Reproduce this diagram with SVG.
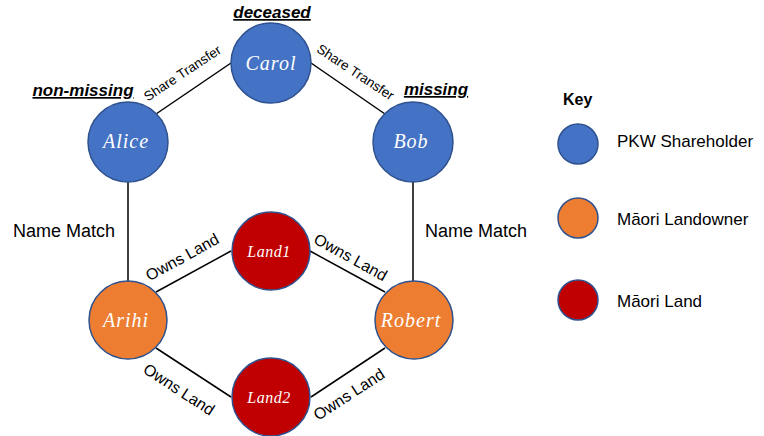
<svg xmlns="http://www.w3.org/2000/svg" width="764" height="436" viewBox="0 0 764 436">
<style>
.node{stroke:#2F528F;stroke-width:1.5}
.blue{fill:#4472C4}.orange{fill:#ED7D31}.red{fill:#C00000}
.nl{font-family:"Liberation Serif",serif;font-style:italic;fill:#fff;text-anchor:middle;font-size:20px;letter-spacing:1px}
.sm{font-size:16px;letter-spacing:0.5px}
.edge{stroke:#000;stroke-width:1.5;fill:none}
.el{font-family:"Liberation Sans",Arial,sans-serif;fill:#000;text-anchor:middle}
.st{font-size:13.5px}.ow{font-size:16px}.nm{font-size:18px}
.tag{font-family:"Liberation Sans",Arial,sans-serif;font-weight:bold;font-style:italic;font-size:17px;text-decoration:underline;text-anchor:middle}
.key{font-family:"Liberation Sans",Arial,sans-serif;font-size:17px}
</style>
<rect width="764" height="436" fill="#fff"/>
<g id="connectors">
<line class="edge" x1="156" y1="114" x2="231" y2="63"/>
<line class="edge" x1="311" y1="63" x2="385" y2="114"/>
<line class="edge" x1="128" y1="182" x2="128" y2="281"/>
<line class="edge" x1="413" y1="182" x2="413" y2="281"/>
<line class="edge" x1="156" y1="292" x2="231" y2="251"/>
<line class="edge" x1="310" y1="251" x2="385" y2="292"/>
<line class="edge" x1="156" y1="348" x2="231" y2="397"/>
<line class="edge" x1="311" y1="397" x2="385" y2="348"/>
<text class="el st" transform="translate(185,77) rotate(-33.5)">Share Transfer</text>
<text class="el st" transform="translate(353,76) rotate(33.5)">Share Transfer</text>
<text class="el nm" x="64" y="237">Name Match</text>
<text class="el nm" x="476" y="237">Name Match</text>
<text class="el ow" transform="translate(185,262) rotate(-29)">Owns Land</text>
<text class="el ow" transform="translate(348,262) rotate(29)">Owns Land</text>
<text class="el ow" transform="translate(176,394) rotate(33)">Owns Land</text>
<text class="el ow" transform="translate(352,399) rotate(-33)">Owns Land</text>
</g>
<g id="carol"><circle class="node blue" cx="271" cy="63" r="40"/><text class="nl" x="271" y="70">Carol</text></g>
<g id="alice"><circle class="node blue" cx="128" cy="142" r="40"/><text class="nl" x="126" y="148">Alice</text></g>
<g id="bob"><circle class="node blue" cx="413" cy="142" r="40"/><text class="nl" x="411" y="148">Bob</text></g>
<g id="arihi"><circle class="node orange" cx="128" cy="320" r="39"/><text class="nl" x="126" y="327">Arihi</text></g>
<g id="robert"><circle class="node orange" cx="414" cy="320" r="39"/><text class="nl" x="411" y="327">Robert</text></g>
<g id="land1"><circle class="node red" cx="271" cy="251" r="39"/><text class="nl sm" x="269" y="257">Land1</text></g>
<g id="land2"><circle class="node red" cx="271" cy="397" r="39"/><text class="nl sm" x="269" y="403">Land2</text></g>
<g id="labels">
<text class="tag" x="272" y="18">deceased</text>
<text class="tag" x="83" y="96">non-missing</text>
<text class="tag" x="436" y="95">missing</text>
</g>
<g id="key">
<text x="563" y="105" font-family="Liberation Sans, Arial, sans-serif" font-weight="bold" font-size="16">Key</text>
<circle class="node blue" cx="578" cy="144" r="20"/>
<circle class="node orange" cx="578" cy="218" r="20"/>
<circle class="node red" cx="578" cy="300" r="20"/>
<text class="key" x="617" y="147">PKW Shareholder</text>
<text class="key" x="617" y="225">Māori Landowner</text>
<text class="key" x="617" y="307">Māori Land</text>
</g>
</svg>
